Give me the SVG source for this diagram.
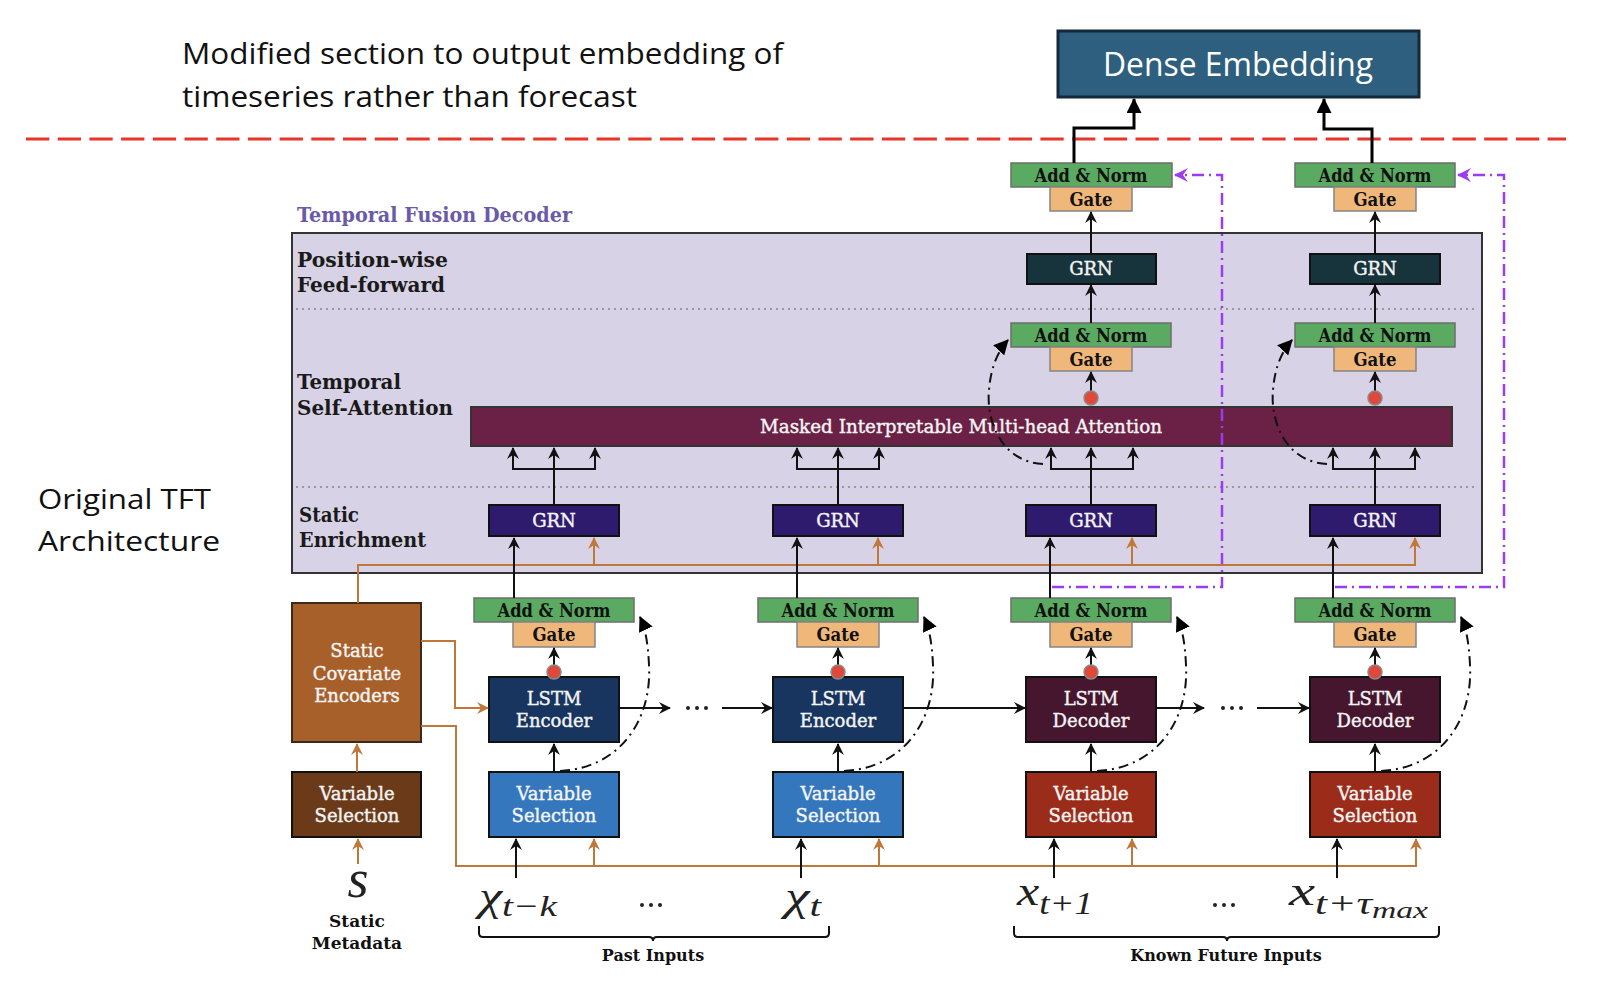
<svg xmlns="http://www.w3.org/2000/svg" width="1606" height="984" viewBox="0 0 1606 984">
<defs>
<marker id="ab" viewBox="0 0 12 12" refX="11" refY="6" markerWidth="12" markerHeight="12" markerUnits="userSpaceOnUse" orient="auto"><path d="M0,0 L12,6 L0,12 L4,6 z" fill="#111"/></marker>
<marker id="ao" viewBox="0 0 12 12" refX="11" refY="6" markerWidth="12" markerHeight="12" markerUnits="userSpaceOnUse" orient="auto"><path d="M0,0 L12,6 L0,12 L4,6 z" fill="#c0783a"/></marker>
<marker id="ap" viewBox="0 0 14 14" refX="13" refY="7" markerWidth="14" markerHeight="14" markerUnits="userSpaceOnUse" orient="auto"><path d="M0,0 L14,7 L0,14 L5,7 z" fill="#9b3cf0"/></marker>
<marker id="at" viewBox="0 0 14 14" refX="13" refY="7" markerWidth="15" markerHeight="15" markerUnits="userSpaceOnUse" orient="auto"><path d="M0,0 L14,7 L0,14 z" fill="#000"/></marker>
<marker id="ad" viewBox="0 0 14 14" refX="13" refY="7" markerWidth="15" markerHeight="15" markerUnits="userSpaceOnUse" orient="auto"><path d="M0,0 L14,7 L0,14 z" fill="#000"/></marker>
</defs>
<style>
.sans{font-family:"Open Sans","Liberation Sans",sans-serif;fill:#111}
.lbl{font-family:"DejaVu Serif","Liberation Serif",serif;font-weight:bold;font-size:20px;fill:#1a1a1a}
.wt{font-family:"DejaVu Serif","Liberation Serif",serif;font-size:18px;fill:#f4f4f4;stroke:#f4f4f4;stroke-width:0.4;text-anchor:middle}
.bt{font-family:"DejaVu Serif","Liberation Serif",serif;font-weight:bold;font-size:18px;fill:#111;text-anchor:middle}
.math{font-family:"Liberation Serif","DejaVu Serif",serif;font-style:italic;fill:#222}
.an{fill:#5aaa62;stroke:#6e6e6e;stroke-width:1.5}
.gt{fill:#f0b77a;stroke:#858585;stroke-width:1.5}
.dk{stroke:#111;stroke-width:2}
.k{fill:none;stroke:#111;stroke-width:2}
.o{fill:none;stroke:#c0783a;stroke-width:2}
.p{fill:none;stroke:#9b3cf0;stroke-width:2.5;stroke-dasharray:12 5 2 5}
.dd{fill:none;stroke:#111;stroke-width:2;stroke-dasharray:10 5 2 5}
.dot{fill:#e0483a;stroke:#8a8a8a;stroke-width:1.5}
.sep{stroke:#9a9a9a;stroke-width:2;stroke-dasharray:2 4}
</style>
<rect width="1606" height="984" fill="#fff"/>

<g id="annotations">
<text class="sans" x="182" y="64" font-size="30" textLength="601" lengthAdjust="spacingAndGlyphs">Modified section to output embedding of</text>
<text class="sans" x="182" y="107" font-size="30" textLength="455" lengthAdjust="spacingAndGlyphs">timeseries rather than forecast</text>
<text class="sans" x="38" y="509" font-size="27" textLength="173" lengthAdjust="spacingAndGlyphs">Original TFT</text>
<text class="sans" x="38" y="551" font-size="27" textLength="182" lengthAdjust="spacingAndGlyphs">Architecture</text>
<line x1="26" y1="139" x2="1566" y2="139" stroke="#e8352a" stroke-width="3" stroke-dasharray="23.3 8.4"/>
</g>

<g id="dense-embedding">
<rect x="1058" y="31" width="361" height="66" fill="#2e5f7e" stroke="#14283a" stroke-width="3"/>
<text class="sans" x="1238" y="76" font-size="32" text-anchor="middle" style="fill:#fff" textLength="270" lengthAdjust="spacingAndGlyphs">Dense Embedding</text>
</g>

<g id="temporal-fusion-decoder">
<text class="lbl" x="297" y="222" style="fill:#6a5aa8" textLength="275" lengthAdjust="spacingAndGlyphs">Temporal Fusion Decoder</text>
<rect x="292" y="233" width="1190" height="340" fill="#d8d2e6" stroke="#333" stroke-width="2"/>
<line class="sep" x1="296" y1="309" x2="1478" y2="309"/>
<line class="sep" x1="296" y1="487" x2="1478" y2="487"/>
<text class="lbl" x="297" y="267" textLength="151" lengthAdjust="spacingAndGlyphs">Position-wise</text>
<text class="lbl" x="297" y="292" textLength="148" lengthAdjust="spacingAndGlyphs">Feed-forward</text>
<text class="lbl" x="297" y="389" textLength="104" lengthAdjust="spacingAndGlyphs">Temporal</text>
<text class="lbl" x="297" y="415" textLength="156" lengthAdjust="spacingAndGlyphs">Self-Attention</text>
<text class="lbl" x="299" y="522" textLength="60" lengthAdjust="spacingAndGlyphs">Static</text>
<text class="lbl" x="299" y="547" textLength="127" lengthAdjust="spacingAndGlyphs">Enrichment</text>
</g>

<g id="attention">
<rect x="471" y="407" width="981" height="39" fill="#6b2145" stroke="#333" stroke-width="2"/>
<text class="wt" x="961" y="433" textLength="402" lengthAdjust="spacingAndGlyphs">Masked Interpretable Multi-head Attention</text>
</g>

<g id="static-encoders">
<rect x="292" y="603" width="129" height="139" fill="#a8602a" stroke="#3b2a1a" stroke-width="2"/>
<text class="wt" x="357" y="657">Static</text>
<text class="wt" x="357" y="680">Covariate</text>
<text class="wt" x="357" y="702">Encoders</text>
</g>
<g id="static-vs">
<rect x="292" y="772" width="129" height="65" fill="#6b3b19" stroke="#111" stroke-width="2"/>
<text class="wt" x="357" y="800">Variable</text>
<text class="wt" x="357" y="822">Selection</text>
</g>
<g id="static-metadata">
<text class="math" x="358" y="897" font-size="54" text-anchor="middle">s</text>
<text class="bt" x="357" y="927" style="font-size:17px">Static</text>
<text class="bt" x="357" y="949" style="font-size:17px">Metadata</text>
</g>

<g id="col1">
<rect class="an" x="474" y="598" width="160" height="24"/><text class="bt" x="554" y="617" textLength="113" lengthAdjust="spacingAndGlyphs">Add &amp; Norm</text>
<rect class="gt" x="513" y="622" width="82" height="25"/><text class="bt" x="554" y="641" textLength="43" lengthAdjust="spacingAndGlyphs">Gate</text>
<rect class="dk" x="489" y="677" width="130" height="65" fill="#17355f"/>
<text class="wt" x="554" y="705">LSTM</text><text class="wt" x="554" y="727">Encoder</text>
<rect class="dk" x="489" y="772" width="130" height="65" fill="#3477bd"/>
<text class="wt" x="554" y="800">Variable</text><text class="wt" x="554" y="822">Selection</text>
<rect class="dk" x="489" y="505" width="130" height="31" fill="#2f1b6e"/><text class="wt" x="554" y="527">GRN</text>
</g>
<g id="col2">
<rect class="an" x="758" y="598" width="160" height="24"/><text class="bt" x="838" y="617" textLength="113" lengthAdjust="spacingAndGlyphs">Add &amp; Norm</text>
<rect class="gt" x="797" y="622" width="82" height="25"/><text class="bt" x="838" y="641" textLength="43" lengthAdjust="spacingAndGlyphs">Gate</text>
<rect class="dk" x="773" y="677" width="130" height="65" fill="#17355f"/>
<text class="wt" x="838" y="705">LSTM</text><text class="wt" x="838" y="727">Encoder</text>
<rect class="dk" x="773" y="772" width="130" height="65" fill="#3477bd"/>
<text class="wt" x="838" y="800">Variable</text><text class="wt" x="838" y="822">Selection</text>
<rect class="dk" x="773" y="505" width="130" height="31" fill="#2f1b6e"/><text class="wt" x="838" y="527">GRN</text>
</g>
<g id="col3">
<rect class="an" x="1011" y="598" width="160" height="24"/><text class="bt" x="1091" y="617" textLength="113" lengthAdjust="spacingAndGlyphs">Add &amp; Norm</text>
<rect class="gt" x="1050" y="622" width="82" height="25"/><text class="bt" x="1091" y="641" textLength="43" lengthAdjust="spacingAndGlyphs">Gate</text>
<rect class="dk" x="1026" y="677" width="130" height="65" fill="#45162d"/>
<text class="wt" x="1091" y="705">LSTM</text><text class="wt" x="1091" y="727">Decoder</text>
<rect class="dk" x="1026" y="772" width="130" height="65" fill="#9b2c1a"/>
<text class="wt" x="1091" y="800">Variable</text><text class="wt" x="1091" y="822">Selection</text>
<rect class="dk" x="1026" y="505" width="130" height="31" fill="#2f1b6e"/><text class="wt" x="1091" y="527">GRN</text>
<rect class="an" x="1011" y="323" width="160" height="24"/><text class="bt" x="1091" y="342" textLength="113" lengthAdjust="spacingAndGlyphs">Add &amp; Norm</text>
<rect class="gt" x="1050" y="347" width="82" height="24"/><text class="bt" x="1091" y="366" textLength="43" lengthAdjust="spacingAndGlyphs">Gate</text>
<rect class="dk" x="1027" y="254" width="129" height="30" fill="#17333b"/><text class="wt" x="1091" y="275">GRN</text>
<rect class="an" x="1011" y="163" width="161" height="24"/><text class="bt" x="1091" y="182" textLength="113" lengthAdjust="spacingAndGlyphs">Add &amp; Norm</text>
<rect class="gt" x="1050" y="187" width="82" height="24"/><text class="bt" x="1091" y="206" textLength="43" lengthAdjust="spacingAndGlyphs">Gate</text>
</g>
<g id="col4">
<rect class="an" x="1295" y="598" width="160" height="24"/><text class="bt" x="1375" y="617" textLength="113" lengthAdjust="spacingAndGlyphs">Add &amp; Norm</text>
<rect class="gt" x="1334" y="622" width="82" height="25"/><text class="bt" x="1375" y="641" textLength="43" lengthAdjust="spacingAndGlyphs">Gate</text>
<rect class="dk" x="1310" y="677" width="130" height="65" fill="#45162d"/>
<text class="wt" x="1375" y="705">LSTM</text><text class="wt" x="1375" y="727">Decoder</text>
<rect class="dk" x="1310" y="772" width="130" height="65" fill="#9b2c1a"/>
<text class="wt" x="1375" y="800">Variable</text><text class="wt" x="1375" y="822">Selection</text>
<rect class="dk" x="1310" y="505" width="130" height="31" fill="#2f1b6e"/><text class="wt" x="1375" y="527">GRN</text>
<rect class="an" x="1295" y="323" width="160" height="24"/><text class="bt" x="1375" y="342" textLength="113" lengthAdjust="spacingAndGlyphs">Add &amp; Norm</text>
<rect class="gt" x="1334" y="347" width="82" height="24"/><text class="bt" x="1375" y="366" textLength="43" lengthAdjust="spacingAndGlyphs">Gate</text>
<rect class="dk" x="1310" y="254" width="130" height="30" fill="#17333b"/><text class="wt" x="1375" y="275">GRN</text>
<rect class="an" x="1295" y="163" width="160" height="24"/><text class="bt" x="1375" y="182" textLength="113" lengthAdjust="spacingAndGlyphs">Add &amp; Norm</text>
<rect class="gt" x="1334" y="187" width="82" height="24"/><text class="bt" x="1375" y="206" textLength="43" lengthAdjust="spacingAndGlyphs">Gate</text>
</g>

<g id="inputs">
<text class="math" x="479" y="910" font-size="40" textLength="78" lengthAdjust="spacingAndGlyphs">χ<tspan font-size="30" dy="6">t−k</tspan></text>
<text class="math" x="785" y="910" font-size="40" textLength="36" lengthAdjust="spacingAndGlyphs">χ<tspan font-size="30" dy="6">t</tspan></text>
<text class="math" x="1017" y="905" font-size="42" textLength="76" lengthAdjust="spacingAndGlyphs">x<tspan font-size="31" dy="9">t+1</tspan></text>
<text class="math" x="1289" y="905" font-size="42" textLength="139" lengthAdjust="spacingAndGlyphs">x<tspan font-size="31" dy="9">t+τ</tspan><tspan font-size="24" dy="4">max</tspan></text>
<g fill="#222"><circle cx="642" cy="905" r="2"/><circle cx="651" cy="905" r="2"/><circle cx="660" cy="905" r="2"/>
<circle cx="1215" cy="905" r="2"/><circle cx="1224" cy="905" r="2"/><circle cx="1233" cy="905" r="2"/>
<circle cx="688" cy="708" r="2"/><circle cx="697" cy="708" r="2"/><circle cx="706" cy="708" r="2"/>
<circle cx="1223" cy="708" r="2"/><circle cx="1232" cy="708" r="2"/><circle cx="1241" cy="708" r="2"/></g>
<path class="k" d="M479,926 V933 Q479,937 483,937 H649 Q653,937 653,941 Q653,937 657,937 H825 Q829,937 829,933 V926"/>
<path class="k" d="M1014,926 V933 Q1014,937 1018,937 H1223 Q1227,937 1227,941 Q1227,937 1231,937 H1435 Q1439,937 1439,933 V926"/>
<text class="bt" x="653" y="961" style="font-size:16px">Past Inputs</text>
<text class="bt" x="1226" y="961" style="font-size:16px">Known Future Inputs</text>
</g>

<g id="connectors">
<path fill="none" stroke="#000" stroke-width="3" d="M1074,163 V128 H1134 V99" marker-end="url(#ad)"/>
<path fill="none" stroke="#000" stroke-width="3" d="M1372,163 V129 H1324 V99" marker-end="url(#ad)"/>
<path class="p" d="M1052,587 H1222 V175 H1175" marker-end="url(#ap)"/>
<path class="p" d="M1335,587 H1504 V175 H1458" marker-end="url(#ap)"/>
<path class="o" d="M358,603 V565 H1415 V538" marker-end="url(#ao)"/>
<path class="o" d="M594,565 V538" marker-end="url(#ao)"/>
<path class="o" d="M878,565 V538" marker-end="url(#ao)"/>
<path class="o" d="M1132,565 V538" marker-end="url(#ao)"/>
<path class="o" d="M421,641 H455 V708 H488" marker-end="url(#ao)"/>
<path class="o" d="M421,726 H456 V866 H1416 V839" marker-end="url(#ao)"/>
<path class="o" d="M594,866 V839" marker-end="url(#ao)"/>
<path class="o" d="M879,866 V839" marker-end="url(#ao)"/>
<path class="o" d="M1132,866 V839" marker-end="url(#ao)"/>
<path class="o" d="M357,772 V744" marker-end="url(#ao)"/>
<path class="o" d="M358,864 V839" marker-end="url(#ao)"/>
<path class="k" d="M516,878 V839" marker-end="url(#ab)"/>
<path class="k" d="M801,878 V839" marker-end="url(#ab)"/>
<path class="k" d="M1054,878 V839" marker-end="url(#ab)"/>
<path class="k" d="M1337,878 V839" marker-end="url(#ab)"/>
<path class="k" d="M554,772 V744" marker-end="url(#ab)"/>
<path class="k" d="M838,772 V744" marker-end="url(#ab)"/>
<path class="k" d="M1091,772 V744" marker-end="url(#ab)"/>
<path class="k" d="M1375,772 V744" marker-end="url(#ab)"/>
<path class="k" d="M619,708 H670" marker-end="url(#ab)"/>
<path class="k" d="M722,708 H772" marker-end="url(#ab)"/>
<path class="k" d="M903,708 H1025" marker-end="url(#ab)"/>
<path class="k" d="M1156,708 H1204" marker-end="url(#ab)"/>
<path class="k" d="M1257,708 H1309" marker-end="url(#ab)"/>
<path class="k" d="M554,670 V648" marker-end="url(#ab)"/>
<path class="k" d="M838,670 V648" marker-end="url(#ab)"/>
<path class="k" d="M1091,670 V648" marker-end="url(#ab)"/>
<path class="k" d="M1375,670 V648" marker-end="url(#ab)"/>
<circle class="dot" cx="554" cy="672" r="7"/>
<circle class="dot" cx="838" cy="672" r="7"/>
<circle class="dot" cx="1091" cy="672" r="7"/>
<circle class="dot" cx="1375" cy="672" r="7"/>
<path class="dd" d="M560,771 C620,768 652,720 649,665 C648,645 646,630 640,617" marker-end="url(#at)"/>
<path class="dd" d="M844,771 C904,768 936,720 933,665 C932,645 930,630 924,617" marker-end="url(#at)"/>
<path class="dd" d="M1097,771 C1157,768 1189,720 1186,665 C1185,645 1183,630 1177,617" marker-end="url(#at)"/>
<path class="dd" d="M1381,771 C1441,768 1473,720 1470,665 C1469,645 1467,630 1461,617" marker-end="url(#at)"/>
<path class="k" d="M514,598 V538" marker-end="url(#ab)"/>
<path class="k" d="M797,598 V538" marker-end="url(#ab)"/>
<path class="k" d="M1050,598 V538" marker-end="url(#ab)"/>
<path class="k" d="M1333,598 V538" marker-end="url(#ab)"/>
<path class="k" d="M554,505 V448" marker-end="url(#ab)"/>
<path class="k" d="M554,469 H513 V448" marker-end="url(#ab)"/>
<path class="k" d="M554,469 H595 V448" marker-end="url(#ab)"/>
<path class="k" d="M838,505 V448" marker-end="url(#ab)"/>
<path class="k" d="M838,469 H797 V448" marker-end="url(#ab)"/>
<path class="k" d="M838,469 H879 V448" marker-end="url(#ab)"/>
<path class="k" d="M1091,505 V448" marker-end="url(#ab)"/>
<path class="k" d="M1091,469 H1051 V448" marker-end="url(#ab)"/>
<path class="k" d="M1091,469 H1133 V448" marker-end="url(#ab)"/>
<path class="k" d="M1375,505 V448" marker-end="url(#ab)"/>
<path class="k" d="M1375,469 H1333 V448" marker-end="url(#ab)"/>
<path class="k" d="M1375,469 H1415 V448" marker-end="url(#ab)"/>
<path class="dd" d="M1043,464 C1001,462 986,420 989,390 C991,365 999,350 1008,340" marker-end="url(#at)"/>
<path class="dd" d="M1327,464 C1285,462 1270,420 1273,390 C1275,365 1283,350 1292,340" marker-end="url(#at)"/>
<path class="k" d="M1091,395 V372" marker-end="url(#ab)"/>
<path class="k" d="M1375,395 V372" marker-end="url(#ab)"/>
<circle class="dot" cx="1091" cy="398" r="7"/>
<circle class="dot" cx="1375" cy="398" r="7"/>
<path class="k" d="M1091,323 V285" marker-end="url(#ab)"/>
<path class="k" d="M1375,323 V285" marker-end="url(#ab)"/>
<path class="k" d="M1091,254 V212" marker-end="url(#ab)"/>
<path class="k" d="M1375,254 V212" marker-end="url(#ab)"/>
</g>
</svg>
